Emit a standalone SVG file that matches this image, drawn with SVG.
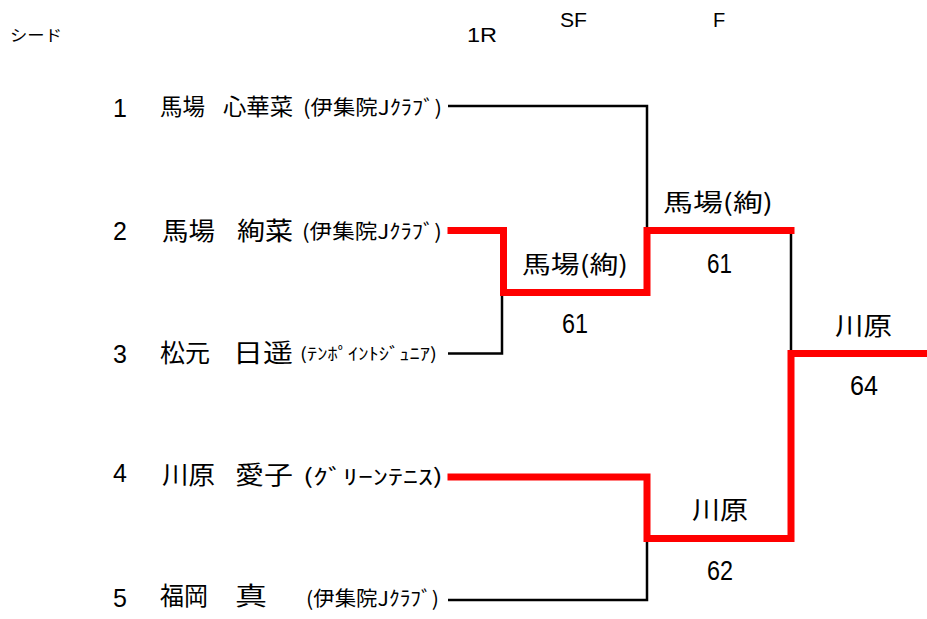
<svg xmlns="http://www.w3.org/2000/svg" width="927" height="619" viewBox="0 0 927 619">
<style>
.t{font-family:"Noto Sans CJK JP","Liberation Sans",sans-serif;fill:#000}
.n{font-family:"Liberation Sans","Noto Sans CJK JP",sans-serif;fill:#000}
.blk{fill:none;stroke:#000;stroke-width:2.5}
.red{fill:none;stroke:#ff0000;stroke-width:7;stroke-linejoin:miter;stroke-linecap:square}
</style>
<rect width="927" height="619" fill="#fff"/>
<g id="headers">
<text class="t" x="10" y="41" font-size="16" textLength="52" lengthAdjust="spacingAndGlyphs">シード</text>
<text class="n" x="467" y="42" font-size="21" textLength="30" lengthAdjust="spacingAndGlyphs">1R</text>
<text class="n" x="560" y="27" font-size="20" textLength="27" lengthAdjust="spacingAndGlyphs">SF</text>
<text class="n" x="713" y="27" font-size="20">F</text>
</g>
<g id="connectors">
<path class="blk" d="M448,106 H647 V230"/>
<path class="blk" d="M448,353.5 H502 V293"/>
<path class="blk" d="M791,230 V353"/>
<path class="blk" d="M448,600 H647 V540"/>
<path class="red" d="M451,230.5 H503.5 V292.5 H647 V230.5 H791"/>
<path class="red" d="M451,477 H647 V538.5 H791 V353.5 H927"/>
</g>
<g id="seed1">
<text class="n" x="113" y="117" font-size="25">1</text>
<text class="t" x="160" y="115" font-size="23" textLength="45" lengthAdjust="spacingAndGlyphs">馬場</text>
<text class="t" x="223" y="115" font-size="23" textLength="70" lengthAdjust="spacingAndGlyphs">心華菜</text>
<text class="t" x="303" y="115" font-size="20" textLength="139" lengthAdjust="spacingAndGlyphs">(伊集院Jｸﾗﾌﾞ)</text>
</g>
<g id="seed2">
<text class="n" x="113" y="240" font-size="25">2</text>
<text class="t" x="162" y="240" font-size="25" textLength="53" lengthAdjust="spacingAndGlyphs">馬場</text>
<text class="t" x="237" y="240" font-size="25" textLength="56" lengthAdjust="spacingAndGlyphs">絢菜</text>
<text class="t" x="302" y="239" font-size="20" textLength="140" lengthAdjust="spacingAndGlyphs">(伊集院Jｸﾗﾌﾞ)</text>
</g>
<g id="seed3">
<text class="n" x="113" y="363" font-size="25">3</text>
<text class="t" x="160" y="362" font-size="25" textLength="50" lengthAdjust="spacingAndGlyphs">松元</text>
<text class="t" x="233" y="362" font-size="25" textLength="60" lengthAdjust="spacingAndGlyphs">日遥</text>
<text class="t" x="300" y="360" font-size="17" textLength="137" lengthAdjust="spacingAndGlyphs">(ﾃﾝﾎﾟｲﾝﾄｼﾞｭﾆｱ)</text>
</g>
<g id="seed4">
<text class="n" x="113" y="482" font-size="25">4</text>
<text class="t" x="162" y="484" font-size="25" textLength="53" lengthAdjust="spacingAndGlyphs">川原</text>
<text class="t" x="235" y="484" font-size="25" textLength="58" lengthAdjust="spacingAndGlyphs">愛子</text>
<text class="t" x="303" y="484" font-size="21" textLength="140" lengthAdjust="spacingAndGlyphs">(ｸﾞﾘｰﾝﾃﾆｽ)</text>
</g>
<g id="seed5">
<text class="n" x="113" y="607" font-size="25">5</text>
<text class="t" x="160" y="605" font-size="25" textLength="48" lengthAdjust="spacingAndGlyphs">福岡</text>
<text class="t" x="235" y="605" font-size="25" textLength="32" lengthAdjust="spacingAndGlyphs">真</text>
<text class="t" x="306" y="606" font-size="20" textLength="133" lengthAdjust="spacingAndGlyphs">(伊集院Jｸﾗﾌﾞ)</text>
</g>
<g id="sf1">
<text class="t" x="522" y="273" font-size="24" textLength="106" lengthAdjust="spacingAndGlyphs">馬場(絢)</text>
<text class="n" x="562" y="333" font-size="27" textLength="26" lengthAdjust="spacingAndGlyphs">61</text>
</g>
<g id="f1">
<text class="t" x="663" y="211" font-size="24" textLength="110" lengthAdjust="spacingAndGlyphs">馬場(絢)</text>
<text class="n" x="707" y="273" font-size="27" textLength="25" lengthAdjust="spacingAndGlyphs">61</text>
</g>
<g id="f2">
<text class="t" x="692" y="519" font-size="25" textLength="56" lengthAdjust="spacingAndGlyphs">川原</text>
<text class="n" x="707" y="580" font-size="27" textLength="26" lengthAdjust="spacingAndGlyphs">62</text>
</g>
<g id="champion">
<text class="t" x="835" y="335" font-size="25" textLength="57" lengthAdjust="spacingAndGlyphs">川原</text>
<text class="n" x="850" y="395" font-size="27" textLength="28" lengthAdjust="spacingAndGlyphs">64</text>
</g>
</svg>
